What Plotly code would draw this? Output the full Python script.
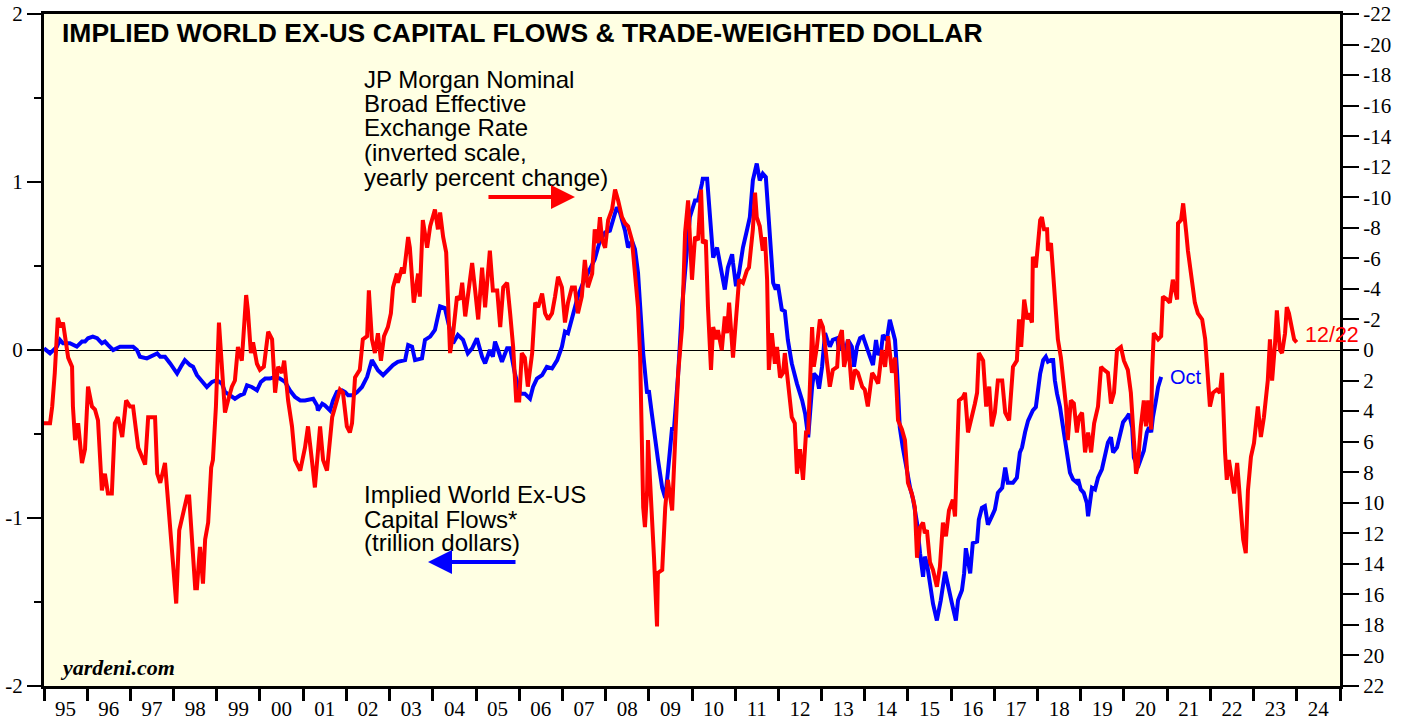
import plotly.graph_objects as go
import pandas as pd

# JP Morgan nominal broad effective exchange rate, yearly % change (right axis, inverted)
red_t = [
    1995.00, 1995.14, 1995.19, 1995.25, 1995.32, 1995.39, 1995.44, 1995.49, 1995.56, 1995.65,
    1995.67, 1995.72, 1995.79, 1995.88, 1995.95, 1996.02, 1996.11, 1996.18, 1996.25, 1996.34,
    1996.41, 1996.48, 1996.57, 1996.64, 1996.71, 1996.81, 1996.90, 1996.99, 1997.06, 1997.18,
    1997.34, 1997.41, 1997.57, 1997.62, 1997.69, 1997.80, 1997.92, 1997.99, 1998.06, 1998.13,
    1998.22, 1998.31, 1998.36, 1998.45, 1998.50, 1998.54, 1998.61, 1998.68, 1998.73, 1998.80,
    1998.87, 1998.91, 1998.98, 1999.05, 1999.12, 1999.19, 1999.26, 1999.35, 1999.42, 1999.49,
    1999.58, 1999.68, 1999.72, 1999.79, 1999.84, 1999.93, 2000.00, 2000.09, 2000.19, 2000.28,
    2000.35, 2000.42, 2000.51, 2000.56, 2000.65, 2000.74, 2000.81, 2000.93, 2001.04, 2001.11,
    2001.20, 2001.27, 2001.39, 2001.46, 2001.55, 2001.67, 2001.78, 2001.85, 2001.92, 2002.01,
    2002.08, 2002.13, 2002.20, 2002.31, 2002.38, 2002.48, 2002.52, 2002.59, 2002.66, 2002.73,
    2002.80, 2002.87, 2002.96, 2003.03, 2003.08, 2003.17, 2003.19, 2003.29, 2003.33, 2003.43,
    2003.47, 2003.52, 2003.56, 2003.66, 2003.70, 2003.77, 2003.87, 2003.94, 2004.05, 2004.12,
    2004.17, 2004.24, 2004.31, 2004.40, 2004.47, 2004.56, 2004.63, 2004.68, 2004.75, 2004.81,
    2004.91, 2004.98, 2005.05, 2005.14, 2005.21, 2005.32, 2005.39, 2005.49, 2005.56, 2005.63,
    2005.72, 2005.79, 2005.86, 2005.93, 2006.00, 2006.06, 2006.13, 2006.20, 2006.30, 2006.37,
    2006.44, 2006.53, 2006.60, 2006.67, 2006.76, 2006.83, 2006.90, 2006.99, 2007.06, 2007.13,
    2007.22, 2007.29, 2007.36, 2007.45, 2007.52, 2007.59, 2007.69, 2007.75, 2007.82, 2007.87,
    2007.92, 2007.99, 2008.06, 2008.15, 2008.22, 2008.29, 2008.38, 2008.45, 2008.52, 2008.61,
    2008.68, 2008.75, 2008.80, 2008.84, 2008.87, 2008.91, 2008.96, 2008.98, 2009.03, 2009.07,
    2009.12, 2009.19, 2009.21, 2009.31, 2009.38, 2009.44, 2009.54, 2009.61, 2009.68, 2009.77,
    2009.84, 2009.91, 2010.00, 2010.07, 2010.14, 2010.21, 2010.25, 2010.32, 2010.37, 2010.44,
    2010.49, 2010.56, 2010.60, 2010.69, 2010.76, 2010.81, 2010.86, 2010.95, 2011.02, 2011.09,
    2011.18, 2011.27, 2011.32, 2011.41, 2011.46, 2011.50, 2011.57, 2011.64, 2011.69, 2011.74,
    2011.78, 2011.85, 2011.92, 2011.97, 2012.04, 2012.11, 2012.15, 2012.22, 2012.31, 2012.38,
    2012.43, 2012.50, 2012.57, 2012.64, 2012.69, 2012.78, 2012.82, 2012.89, 2012.96, 2013.03,
    2013.13, 2013.19, 2013.26, 2013.36, 2013.40, 2013.47, 2013.52, 2013.59, 2013.61, 2013.70,
    2013.77, 2013.84, 2013.94, 2014.00, 2014.07, 2014.17, 2014.24, 2014.31, 2014.40, 2014.47,
    2014.54, 2014.63, 2014.70, 2014.77, 2014.86, 2014.93, 2015.00, 2015.09, 2015.16, 2015.21,
    2015.28, 2015.35, 2015.39, 2015.44, 2015.51, 2015.58, 2015.67, 2015.74, 2015.81, 2015.88,
    2015.95, 2016.04, 2016.09, 2016.13, 2016.18, 2016.27, 2016.32, 2016.39, 2016.48, 2016.55,
    2016.60, 2016.64, 2016.74, 2016.81, 2016.88, 2016.94, 2017.01, 2017.08, 2017.18, 2017.25,
    2017.34, 2017.43, 2017.52, 2017.57, 2017.62, 2017.69, 2017.76, 2017.80, 2017.87, 2017.89,
    2017.96, 2018.01, 2018.06, 2018.10, 2018.15, 2018.22, 2018.24, 2018.31, 2018.36, 2018.43,
    2018.47, 2018.54, 2018.59, 2018.66, 2018.70, 2018.77, 2018.84, 2018.91, 2018.96, 2019.03,
    2019.10, 2019.17, 2019.24, 2019.31, 2019.40, 2019.47, 2019.54, 2019.63, 2019.70, 2019.77,
    2019.84, 2019.93, 2020.00, 2020.09, 2020.16, 2020.21, 2020.28, 2020.32, 2020.39, 2020.46,
    2020.51, 2020.56, 2020.63, 2020.65, 2020.69, 2020.79, 2020.86, 2020.90, 2021.00, 2021.06,
    2021.13, 2021.23, 2021.25, 2021.32, 2021.37, 2021.44, 2021.48, 2021.57, 2021.64, 2021.71,
    2021.81, 2021.88, 2021.94, 2021.99, 2022.06, 2022.15, 2022.22, 2022.27, 2022.34, 2022.38,
    2022.43, 2022.50, 2022.55, 2022.62, 2022.69, 2022.76, 2022.82, 2022.87, 2022.94, 2023.01,
    2023.10, 2023.17, 2023.24, 2023.33, 2023.38, 2023.43, 2023.50, 2023.54, 2023.61, 2023.66,
    2023.73, 2023.77, 2023.82, 2023.89, 2023.94, 2024.00,
]
red_pct = [
    4.8, 4.8, 3.7, 1.5, -2.1, -1.5, -1.8, -0.7, 0.5, 1.1,
    3.7, 5.9, 4.8, 7.4, 6.5, 2.4, 3.7, 3.9, 4.6, 9.2,
    8.1, 9.4, 9.4, 4.8, 4.4, 5.7, 3.3, 3.7, 3.7, 6.4,
    7.5, 4.4, 4.4, 8.1, 8.7, 7.4, 11.3, 14.2, 16.6, 11.8,
    10.7, 9.6, 9.6, 13.6, 15.6, 15.6, 12.9, 15.3, 12.4, 11.3,
    7.7, 7.2, 3.7, -1.8, 1.5, 4.1, 3.3, 2.4, 2.0, -0.2,
    0.7, -3.6, -2.6, 0.2, -0.5, 0.9, 1.3, 1.1, -1.2, -0.7,
    2.8, 1.1, 1.5, 0.7, 3.3, 5.0, 7.2, 7.9, 6.4, 5.0,
    7.2, 9.0, 5.0, 7.2, 7.9, 4.4, 3.3, 2.6, 2.8, 5.0,
    5.4, 4.8, 1.8, 1.3, -0.7, -0.9, -3.9, -0.7, 0.2, -1.1,
    0.7, -0.9, -1.5, -2.4, -4.1, -5.0, -4.4, -5.4, -5.0, -7.4,
    -6.7, -5.0, -3.1, -5.0, -3.5, -8.5, -6.7, -8.1, -9.2, -7.9,
    -9.0, -7.4, -6.4, 0.2, -1.1, -3.5, -3.3, -4.4, -2.2, -3.5,
    -5.7, -3.9, -2.0, -5.4, -2.8, -6.5, -3.9, -3.9, -1.5, -4.1,
    -4.4, -2.4, -0.2, 3.3, 3.3, 0.2, 0.5, 2.4, 0.2, -3.1,
    -2.8, -3.7, -2.4, -2.0, -2.4, -3.5, -4.8, -4.1, -1.8, -3.1,
    -4.1, -4.1, -2.4, -3.5, -5.9, -4.1, -5.0, -7.9, -7.0, -8.7,
    -7.2, -6.7, -8.5, -9.2, -10.5, -9.8, -8.7, -8.3, -8.1, -7.2,
    -5.2, -2.8, 0.5, 5.9, 10.3, 11.6, 9.2, 5.9, 9.2, 11.3,
    13.6, 18.1, 14.6, 14.4, 10.3, 8.5, 10.5, 5.9, 1.5, -1.5,
    -7.7, -9.8, -4.6, -7.4, -7.2, -10.5, -7.0, -7.2, -2.8, 1.3,
    -1.5, -0.7, -1.3, 0.0, -2.2, -1.1, -3.1, 0.5, -2.4, -4.6,
    -4.4, -5.2, -5.4, -7.9, -10.3, -8.7, -8.1, -6.5, -7.4, -4.6,
    1.3, -1.1, 0.9, -0.2, 1.8, 1.5, 0.2, 2.0, 4.4, 4.8,
    8.1, 6.5, 8.5, 5.4, 5.4, -1.5, 1.1, -0.2, -2.0, -1.5,
    1.3, 2.4, 1.3, 1.1, -0.7, -1.3, 1.1, 0.2, -0.7, 2.6,
    1.3, 1.5, 2.4, 2.6, 3.7, 1.5, 1.8, 2.2, 0.0, 1.1,
    -0.9, 1.5, 0.5, 4.6, 5.2, 5.9, 8.7, 9.4, 10.3, 13.6,
    11.6, 11.3, 12.0, 11.8, 13.9, 14.4, 15.5, 14.2, 11.3, 12.2,
    10.5, 9.8, 10.9, 8.1, 3.3, 3.1, 2.8, 5.4, 4.4, 3.5,
    2.8, 0.2, 0.7, 3.7, 2.4, 5.0, 4.1, 2.0, 2.0, 4.1,
    4.6, 1.1, 0.7, -2.0, -0.2, -3.3, -2.0, -2.4, -1.8, -6.1,
    -5.4, -6.8, -8.5, -8.7, -7.9, -7.9, -6.5, -7.0, -5.0, -2.8,
    -0.7, 0.5, 2.0, 3.7, 5.9, 3.3, 3.5, 5.4, 4.4, 4.1,
    6.7, 5.4, 6.7, 4.8, 3.7, 1.1, 1.3, 1.5, 3.5, 2.8,
    0.0, -0.2, 0.7, 1.3, 2.8, 5.2, 8.1, 7.6, 5.0, 3.3,
    5.0, 3.3, 5.2, 1.5, -1.1, -0.7, -0.9, -3.5, -3.3, -3.1,
    -4.6, -3.3, -8.3, -8.5, -9.6, -7.7, -6.5, -4.6, -3.1, -2.4,
    -2.0, -0.7, 1.5, 3.7, 2.8, 2.6, 2.8, 1.5, 6.7, 8.5,
    7.2, 8.7, 9.4, 7.4, 10.3, 12.4, 13.3, 9.2, 7.0, 6.1,
    3.7, 5.7, 4.4, 2.0, -0.7, 2.0, -0.5, -2.6, 0.0, 0.2,
    -1.1, -2.8, -2.4, -1.5, -0.7, -0.5,
]

# Implied world ex-US capital flows, trillion dollars (left axis)
blue_t = [
    1995.00, 1995.14, 1995.30, 1995.37, 1995.44, 1995.60, 1995.76, 1995.88, 1995.95, 1996.02,
    1996.13, 1996.23, 1996.34, 1996.41, 1996.48, 1996.60, 1996.76, 1996.92, 1997.06, 1997.15,
    1997.22, 1997.38, 1997.52, 1997.62, 1997.69, 1997.80, 1997.92, 1997.99, 1998.08, 1998.19,
    1998.26, 1998.38, 1998.45, 1998.54, 1998.66, 1998.77, 1998.89, 1999.00, 1999.12, 1999.19,
    1999.31, 1999.42, 1999.54, 1999.63, 1999.70, 1999.81, 1999.93, 2000.02, 2000.12, 2000.23,
    2000.35, 2000.46, 2000.58, 2000.69, 2000.81, 2000.93, 2001.04, 2001.16, 2001.23, 2001.32,
    2001.34, 2001.44, 2001.50, 2001.62, 2001.69, 2001.78, 2001.90, 2001.97, 2002.04, 2002.15,
    2002.25, 2002.36, 2002.48, 2002.59, 2002.73, 2002.85, 2002.96, 2003.08, 2003.19, 2003.36,
    2003.43, 2003.52, 2003.59, 2003.75, 2003.82, 2003.94, 2004.05, 2004.17, 2004.28, 2004.40,
    2004.47, 2004.58, 2004.70, 2004.81, 2004.91, 2005.02, 2005.14, 2005.21, 2005.32, 2005.39,
    2005.44, 2005.51, 2005.60, 2005.72, 2005.79, 2005.90, 2006.02, 2006.13, 2006.25, 2006.32,
    2006.41, 2006.53, 2006.64, 2006.76, 2006.88, 2006.99, 2007.06, 2007.13, 2007.25, 2007.36,
    2007.48, 2007.59, 2007.75, 2007.87, 2007.99, 2008.10, 2008.17, 2008.26, 2008.33, 2008.45,
    2008.52, 2008.61, 2008.68, 2008.75, 2008.80, 2008.87, 2008.96, 2009.00, 2009.07, 2009.14,
    2009.21, 2009.31, 2009.38, 2009.44, 2009.54, 2009.58, 2009.68, 2009.77, 2009.84, 2009.91,
    2009.95, 2010.07, 2010.14, 2010.23, 2010.25, 2010.35, 2010.42, 2010.49, 2010.58, 2010.63,
    2010.72, 2010.76, 2010.83, 2010.93, 2010.95, 2011.02, 2011.09, 2011.18, 2011.27, 2011.34,
    2011.41, 2011.50, 2011.57, 2011.64, 2011.71, 2011.76, 2011.83, 2011.88, 2011.94, 2011.99,
    2012.08, 2012.15, 2012.22, 2012.31, 2012.43, 2012.55, 2012.62, 2012.69, 2012.78, 2012.82,
    2012.89, 2012.94, 2013.01, 2013.08, 2013.13, 2013.19, 2013.26, 2013.36, 2013.40, 2013.47,
    2013.54, 2013.61, 2013.70, 2013.75, 2013.82, 2013.89, 2013.96, 2014.05, 2014.12, 2014.19,
    2014.26, 2014.31, 2014.38, 2014.42, 2014.51, 2014.58, 2014.65, 2014.70, 2014.75, 2014.81,
    2014.88, 2014.98, 2015.05, 2015.12, 2015.21, 2015.28, 2015.35, 2015.39, 2015.44, 2015.51,
    2015.58, 2015.67, 2015.76, 2015.86, 2015.93, 2016.02, 2016.11, 2016.16, 2016.25, 2016.30,
    2016.34, 2016.39, 2016.44, 2016.50, 2016.60, 2016.64, 2016.71, 2016.78, 2016.85, 2016.94,
    2017.01, 2017.08, 2017.18, 2017.25, 2017.31, 2017.43, 2017.52, 2017.59, 2017.64, 2017.71,
    2017.78, 2017.89, 2017.96, 2018.01, 2018.06, 2018.13, 2018.19, 2018.24, 2018.31, 2018.36,
    2018.40, 2018.45, 2018.52, 2018.59, 2018.66, 2018.70, 2018.75, 2018.82, 2018.91, 2018.94,
    2019.00, 2019.07, 2019.14, 2019.17, 2019.21, 2019.26, 2019.33, 2019.40, 2019.49, 2019.56,
    2019.63, 2019.70, 2019.75, 2019.84, 2019.91, 2019.98, 2020.07, 2020.12, 2020.19, 2020.23,
    2020.32, 2020.39, 2020.46, 2020.53, 2020.58, 2020.63, 2020.67, 2020.74, 2020.79, 2020.86,
]
blue_flow = [
    0.01, -0.02, 0.02, 0.06, 0.04, 0.04, 0.02, 0.05, 0.05, 0.07,
    0.08, 0.07, 0.04, 0.05, 0.03, 0.00, 0.02, 0.02, 0.02, 0.00,
    -0.04, -0.05, -0.03, -0.02, -0.04, -0.04, -0.08, -0.11, -0.14, -0.09,
    -0.06, -0.09, -0.10, -0.15, -0.19, -0.22, -0.19, -0.18, -0.20, -0.25,
    -0.27, -0.29, -0.27, -0.26, -0.21, -0.22, -0.24, -0.19, -0.17, -0.17,
    -0.16, -0.17, -0.19, -0.24, -0.28, -0.30, -0.30, -0.29, -0.29, -0.33,
    -0.36, -0.32, -0.33, -0.36, -0.30, -0.25, -0.24, -0.25, -0.27, -0.27,
    -0.25, -0.22, -0.16, -0.06, -0.12, -0.15, -0.12, -0.09, -0.07, -0.06,
    0.03, 0.02, -0.06, -0.05, 0.06, 0.08, 0.12, 0.26, 0.25, 0.12,
    0.04, 0.09, 0.06, -0.02, 0.01, 0.07, -0.04, -0.08, 0.00, -0.04,
    0.05, 0.00, -0.07, 0.01, 0.01, -0.14, -0.26, -0.26, -0.29, -0.22,
    -0.17, -0.15, -0.10, -0.11, -0.06, 0.02, 0.11, 0.10, 0.22, 0.32,
    0.40, 0.46, 0.54, 0.65, 0.70, 0.71, 0.77, 0.85, 0.82, 0.71,
    0.61, 0.65, 0.60, 0.46, 0.26, -0.02, -0.26, -0.24, -0.38, -0.54,
    -0.65, -0.82, -0.88, -0.73, -0.46, -0.48, -0.14, 0.26, 0.49, 0.65,
    0.79, 0.89, 0.89, 0.99, 1.02, 1.02, 0.79, 0.55, 0.61, 0.54,
    0.42, 0.36, 0.49, 0.57, 0.52, 0.38, 0.46, 0.61, 0.71, 0.79,
    1.01, 1.11, 1.01, 1.05, 1.03, 0.85, 0.65, 0.40, 0.36, 0.39,
    0.24, 0.23, 0.06, -0.08, -0.20, -0.30, -0.38, -0.52, -0.22, -0.14,
    -0.16, -0.23, -0.10, 0.10, 0.06, 0.02, 0.06, 0.07, 0.00, 0.06,
    -0.02, 0.06, 0.02, -0.10, 0.02, 0.07, 0.08, 0.02, -0.04, -0.09,
    0.06, -0.03, 0.00, 0.09, 0.06, 0.18, 0.12, 0.06, -0.14, -0.46,
    -0.58, -0.73, -0.82, -0.89, -1.03, -1.21, -1.35, -1.23, -1.27, -1.39,
    -1.51, -1.61, -1.49, -1.32, -1.41, -1.51, -1.61, -1.49, -1.43, -1.33,
    -1.18, -1.25, -1.33, -1.15, -1.14, -1.01, -0.94, -0.93, -1.04, -0.99,
    -0.95, -0.85, -0.82, -0.70, -0.79, -0.79, -0.76, -0.61, -0.58, -0.49,
    -0.42, -0.36, -0.34, -0.24, -0.14, -0.06, -0.04, -0.07, -0.06, -0.06,
    -0.18, -0.26, -0.34, -0.46, -0.58, -0.67, -0.73, -0.77, -0.79, -0.77,
    -0.83, -0.85, -0.91, -0.99, -0.89, -0.82, -0.83, -0.76, -0.71, -0.64,
    -0.55, -0.52, -0.61, -0.58, -0.51, -0.43, -0.40, -0.38, -0.46, -0.64,
    -0.70, -0.65, -0.60, -0.49, -0.46, -0.49, -0.40, -0.30, -0.22, -0.16,
]

left_ticks = [-2, -1, 0, 1, 2]
left_minor = [-1.5, -0.5, 0.5, 1.5]
right_ticks = list(range(-22, 23, 2))

SANS = "Liberation Sans, Arial, sans-serif"
SERIF = "Liberation Serif, Times New Roman, serif"


def to_date(t):
    # decimal year -> timestamp
    yr = int(t)
    start = pd.Timestamp(yr, 1, 1)
    end = pd.Timestamp(yr + 1, 1, 1)
    return start + (end - start) * (t - yr)


fig = go.Figure()

fig.add_trace(go.Scatter(
    x=[to_date(t) for t in blue_t], y=blue_flow,
    mode="lines", line=dict(color="#0000FF", width=4),
    yaxis="y", hoverinfo="skip",
))
fig.add_trace(go.Scatter(
    x=[to_date(t) for t in red_t], y=red_pct,
    mode="lines", line=dict(color="#FF0000", width=4),
    yaxis="y2", hoverinfo="skip",
))

fig.update_layout(
    width=1408, height=717,
    margin=dict(l=44, r=68, t=14, b=31, autoexpand=False),
    paper_bgcolor="white",
    plot_bgcolor="#FFFFE3",
    showlegend=False,
    xaxis=dict(
        type="date", automargin=False,
        range=[to_date(1995), to_date(2025)],
        tick0="1995-01-01", dtick="M12",
        tickformat="%y", ticklabelmode="period",
        ticks="outside", ticklen=12, tickwidth=3, tickcolor="black",
        ticklabelstandoff=-10,
        showline=True, linewidth=3, linecolor="black", mirror=True,
        showgrid=False, zeroline=False,
        tickfont=dict(family=SERIF, size=21, color="black"),
    ),
    yaxis=dict(
        range=[-2, 2], automargin=False,
        tickmode="array", tickvals=left_ticks,
        ticktext=[str(v) for v in left_ticks],
        ticks="outside", ticklen=14, tickwidth=1.5, tickcolor="black",
        minor=dict(tickvals=left_minor, ticks="outside", ticklen=7,
                   tickwidth=1.5, tickcolor="black"),
        showline=True, linewidth=3, linecolor="black", mirror=True,
        showgrid=False,
        zeroline=True, zerolinecolor="black", zerolinewidth=1,
        tickfont=dict(family=SERIF, size=21, color="black"),
    ),
    yaxis2=dict(
        overlaying="y", side="right", automargin=False,
        range=[22, -22],
        tickmode="array", tickvals=right_ticks,
        ticktext=[str(v) for v in right_ticks],
        ticks="outside", ticklen=16, tickwidth=2, tickcolor="black",
        showline=True, linewidth=3, linecolor="black",
        showgrid=False, zeroline=False,
        tickfont=dict(family=SERIF, size=21, color="black"),
    ),
)


def label(text, x, y, size=24, color="black", family=SANS, xanchor="left"):
    fig.add_annotation(
        text=text, xref="paper", yref="paper", x=x, y=y,
        xanchor=xanchor, yanchor="middle", showarrow=False,
        font=dict(family=family, size=size, color=color),
    )


label("<b>IMPLIED WORLD EX-US CAPITAL FLOWS & TRADE-WEIGHTED DOLLAR</b>", 0.0123, 0.9717, size=26.5)

jp_lines = ["JP Morgan Nominal", "Broad Effective", "Exchange Rate",
            "(inverted scale,", "yearly percent change)"]
for txt, yp in zip(jp_lines, [0.9018, 0.8661, 0.8304, 0.7946, 0.7574]):
    label(txt, 0.2454, yp)

flow_lines = ["Implied World Ex-US", "Capital Flows*", "(trillion dollars)"]
for txt, yp in zip(flow_lines, [0.2857, 0.2485, 0.2128]):
    label(txt, 0.2454, yp)

label("<b><i>yardeni.com</i></b>", 0.0108, 0.0268, size=22, family=SERIF)
label("Oct", 0.8673, 0.4598, size=20, color="#0000FF")
label("12/22", 0.9715, 0.5223, size=21.5, color="#FF0000")

# direction arrows
fig.add_annotation(
    x=0.4097, y=0.7277, xref="paper", yref="paper",
    ax=-88, ay=0, axref="pixel", ayref="pixel",
    text="", showarrow=True, arrowhead=2, arrowsize=1.2,
    arrowwidth=4, arrowcolor="#FF0000", standoff=0,
)
fig.add_annotation(
    x=0.2963, y=0.1845, xref="paper", yref="paper",
    ax=89, ay=0, axref="pixel", ayref="pixel",
    text="", showarrow=True, arrowhead=2, arrowsize=1.2,
    arrowwidth=4, arrowcolor="#0000FF", standoff=0,
)

# the page's default 8px body margin would shift the chart; remove it
fig.write_html(
    "out.html",
    config={"displayModeBar": False},
    post_script="document.body.style.margin='0';document.body.style.overflow='hidden';",
)
